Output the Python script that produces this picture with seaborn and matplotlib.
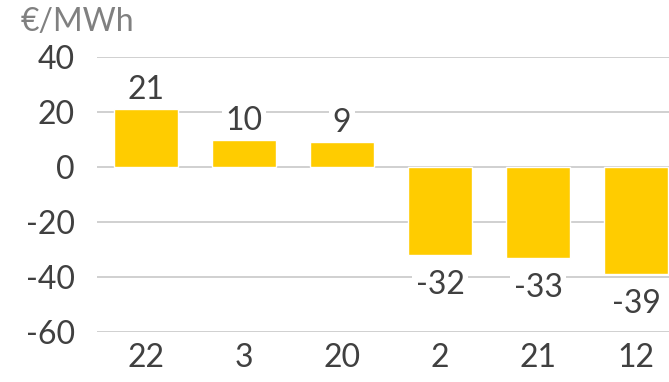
import matplotlib
matplotlib.use("Agg")
import matplotlib.pyplot as plt
import seaborn as sns
import pandas as pd

hours = ["22", "3", "20", "2", "21", "12"]
prices = [21, 10, 9, -32, -33, -39]
yticks = [40, 20, 0, -20, -40, -60]

sns.set_theme(style="white")
plt.rcParams["font.family"] = ["Lato", "DejaVu Sans"]

df = pd.DataFrame({"hour": hours, "price": prices})

fig = plt.figure(figsize=(6.69, 3.82), dpi=100)
ax = fig.add_axes([97 / 669, 1 - 332 / 382, 572 / 669, 275 / 382])

sns.barplot(data=df, x="hour", y="price", color="#FFCC00", saturation=1,
            width=0.66, edgecolor="white", linewidth=1, ax=ax, zorder=2)

FS = 23

ax.set_ylim(-60, 40)
ax.set_xlim(-0.5, 5.5 - 16 / 98.3)
ax.set_yticks(yticks)
ax.set_yticklabels([str(v) for v in yticks])
ax.yaxis.grid(True, color="#C8C8C8", linewidth=1.2, zorder=0)
ax.set_axisbelow(True)
for s in ax.spines.values():
    s.set_visible(False)
ax.tick_params(axis="both", length=0, labelsize=FS, colors="#404040")
ax.tick_params(axis="y", pad=16)
ax.tick_params(axis="x", pad=8)
ax.set_xlabel("")
ax.set_ylabel("")

# value labels above positive bars, below negative ones
for i, v in enumerate(prices):
    off = 19 if v >= 0 else -30
    ax.annotate(str(v), (i, v), xytext=(0, off), textcoords="offset pixels",
                ha="center", va="center", fontsize=FS, color="#404040",
                bbox=dict(boxstyle="square,pad=0.12", fc="white", ec="none"),
                zorder=3)

fig.text(21 / 669, 1 - 22 / 382, "€/MWh", fontsize=FS, color="#808080",
         ha="left", va="center")

fig.savefig("out.png", dpi=100)
